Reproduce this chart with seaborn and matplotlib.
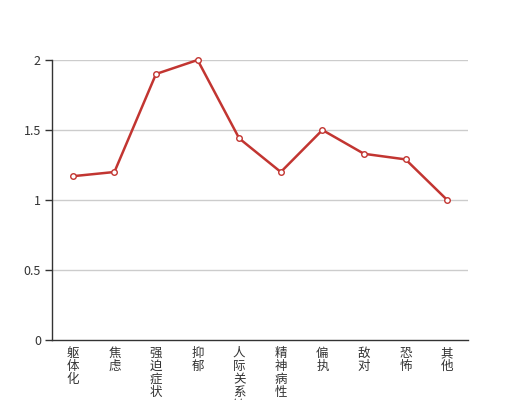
import matplotlib
matplotlib.use("Agg")
import matplotlib.pyplot as plt
import seaborn as sns
import pandas as pd
import numpy as np

categories = ["躯体化", "焦虑", "强迫症状", "抑郁", "人际关系敏感", "精神病性", "偏执", "敌对", "恐怖", "其他"]
values = [1.17, 1.2, 1.9, 2.0, 1.44, 1.2, 1.5, 1.33, 1.29, 1.0]
y_ticks = [0, 0.5, 1, 1.5, 2]
y_tick_labels = ["0", "0.5", "1", "1.5", "2"]

sns.set_theme(style="white")
plt.rcParams['font.family'] = ['Noto Sans CJK SC', 'DejaVu Sans']

df = pd.DataFrame({"idx": np.arange(len(categories)), "value": values})

fig = plt.figure(figsize=(5.2, 4.0), dpi=100)
ax = fig.add_axes([0.1, 0.15, 0.8, 0.70])

for y in y_ticks[1:]:
    ax.axhline(y, color="#cccccc", lw=1, zorder=0)

sns.lineplot(data=df, x="idx", y="value", ax=ax, color="#c23531", lw=1.8,
             marker="o", markersize=4, markerfacecolor="white",
             markeredgecolor="#c23531", markeredgewidth=1, zorder=3, clip_on=False)

ax.set_xlim(-0.5, len(categories) - 0.5)
ax.set_ylim(0, 2)
ax.set_xlabel("")
ax.set_ylabel("")

# boundary ticks (marks only)
ax.set_xticks(np.arange(-0.5, len(categories) + 0.5, 1.0))
ax.set_xticklabels([])
ax.tick_params(axis="x", which="major", direction="out", length=5, width=1, color="#333333")
# labels at centers
ax.set_xticks(np.arange(len(categories)), minor=True)
ax.set_xticklabels(["\n".join(c) for c in categories], minor=True, fontsize=9,
                   color="#333333", linespacing=1.0, va="top")
ax.tick_params(axis="x", which="minor", length=0, pad=5)

ax.set_yticks(y_ticks)
ax.set_yticklabels(y_tick_labels, fontsize=9, color="#333333")
ax.tick_params(axis="y", direction="out", length=5, width=1, color="#333333", pad=3, left=True)

for s in ["top", "right"]:
    ax.spines[s].set_visible(False)
for s in ["left", "bottom"]:
    ax.spines[s].set_color("#333333")
    ax.spines[s].set_linewidth(1)

fig.savefig("out.png", dpi=100)
